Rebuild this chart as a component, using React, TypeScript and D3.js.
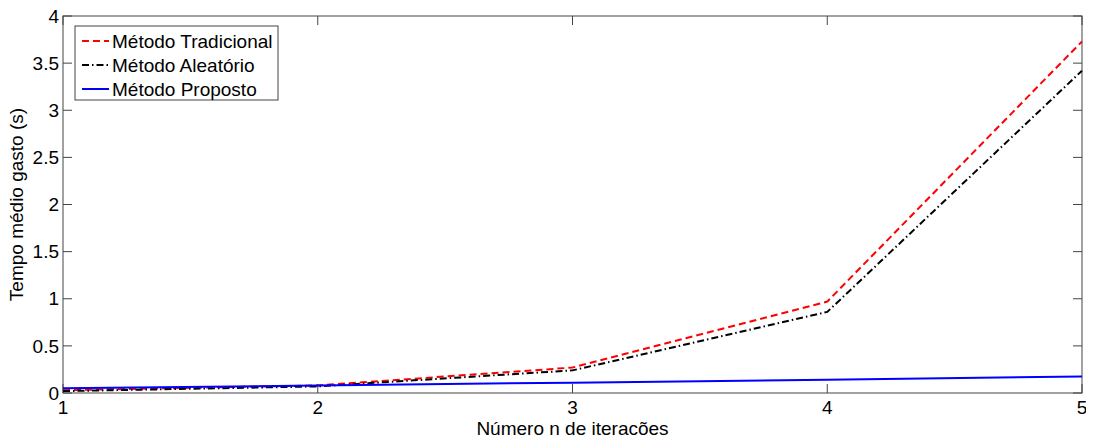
import { useRef, useEffect } from 'react';
import * as d3 from 'd3';

const iterations = [1, 2, 3, 4, 5];
const tradicional = [0.03, 0.08, 0.27, 0.97, 3.73];
const aleatorio = [0.02, 0.07, 0.24, 0.86, 3.42];
const proposto = [0.05, 0.08, 0.11, 0.14, 0.175];
const yTicks = [0, 0.5, 1, 1.5, 2, 2.5, 3, 3.5, 4];
const seriesNames = ['Método Tradicional', 'Método Aleatório', 'Método Proposto'];

const W = 1094;
const H = 443;
const margin = { top: 16, right: 12, bottom: 50, left: 63 };

const App = () => {
	const svgRef = useRef<SVGSVGElement>(null);

	useEffect(() => {
		const root = d3.select(svgRef.current);
		root.selectAll('*').remove();
		const width = W - margin.left - margin.right;
		const height = H - margin.top - margin.bottom;
		const font = '"Liberation Sans", Arial, sans-serif';
		const fs = '19px';

		const svg = root.append('g').attr('transform', `translate(${margin.left},${margin.top})`);

		const x = d3.scaleLinear().domain([1, 5]).range([0, width]);
		const y = d3.scaleLinear().domain([0, 4]).range([height, 0]);

		const styles = [
			{ data: tradicional, color: '#ff0000', dash: '7,4' },
			{ data: aleatorio, color: '#000000', dash: '7,3,1.5,3' },
			{ data: proposto, color: '#0000ff', dash: null },
		];

		const line = d3
			.line<number>()
			.x((_, i) => x(iterations[i]))
			.y((d) => y(d));

		// axes box
		svg.append('rect').attr('width', width).attr('height', height).attr('fill', 'none').attr('stroke', '#444').attr('stroke-width', 1);

		// ticks inward on all sides
		const tickLen = 9;
		yTicks.forEach((t) => {
			svg.append('line').attr('x1', 0).attr('x2', tickLen).attr('y1', y(t)).attr('y2', y(t)).attr('stroke', '#444');
			svg.append('line').attr('x1', width).attr('x2', width - tickLen).attr('y1', y(t)).attr('y2', y(t)).attr('stroke', '#444');
			svg
				.append('text')
				.attr('x', -4)
				.attr('y', y(t))
				.attr('dy', '0.35em')
				.attr('text-anchor', 'end')
				.style('font-family', font)
				.style('font-size', fs)
				.text(String(t));
		});
		iterations.forEach((t) => {
			svg.append('line').attr('x1', x(t)).attr('x2', x(t)).attr('y1', height).attr('y2', height - tickLen).attr('stroke', '#444');
			svg.append('line').attr('x1', x(t)).attr('x2', x(t)).attr('y1', 0).attr('y2', tickLen).attr('stroke', '#444');
			svg
				.append('text')
				.attr('x', x(t))
				.attr('y', height + 21)
				.attr('text-anchor', 'middle')
				.style('font-family', font)
				.style('font-size', fs)
				.text(String(t));
		});

		styles.forEach((s) => {
			svg
				.append('path')
				.datum(s.data)
				.attr('d', line)
				.attr('fill', 'none')
				.attr('stroke', s.color)
				.attr('stroke-width', 2)
				.attr('stroke-dasharray', s.dash);
		});

		// labels
		svg
			.append('text')
			.attr('x', width / 2)
			.attr('y', height + 42)
			.attr('text-anchor', 'middle')
			.style('font-family', font)
			.style('font-size', fs)
			.text('Número n de iterações');
		svg
			.append('text')
			.attr('transform', `translate(${-40},${height / 2}) rotate(-90)`)
			.attr('text-anchor', 'middle')
			.style('font-family', font)
			.style('font-size', fs)
			.text('Tempo médio gasto (s)');

		// legend
		const lg = svg.append('g').attr('transform', 'translate(12,10)');
		lg.append('rect').attr('width', 203).attr('height', 74).attr('fill', '#fff').attr('stroke', '#444');
		seriesNames.forEach((name, i) => {
			const ly = 15 + i * 24;
			lg.append('line')
				.attr('x1', 7)
				.attr('x2', 34)
				.attr('y1', ly)
				.attr('y2', ly)
				.attr('stroke', styles[i].color)
				.attr('stroke-width', 2)
				.attr('stroke-dasharray', styles[i].dash);
			lg.append('text')
				.attr('x', 37)
				.attr('y', ly)
				.attr('dy', '0.35em')
				.style('font-family', font)
				.style('font-size', fs)
				.text(name);
		});
	}, []);

	return (
		<div style={{ margin: -8 }}>
			<svg ref={svgRef} width={W} height={H} style={{ display: 'block', background: '#fff' }} />
		</div>
	);
};

export default App;
